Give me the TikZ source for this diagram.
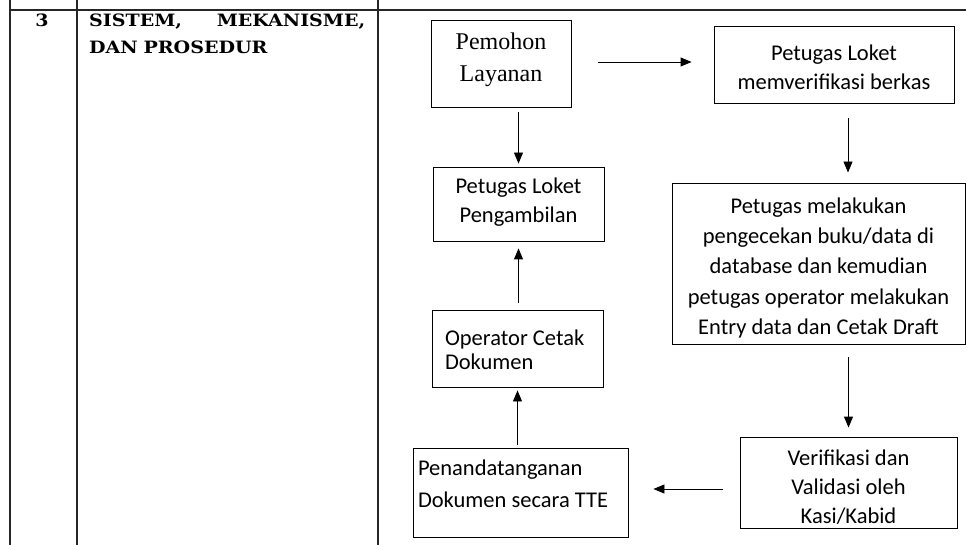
\documentclass[tikz,border=0pt]{standalone}
\usepackage{fontspec}
\usetikzlibrary{arrows.meta}
\setmainfont{Carlito}
\newfontfamily\judulfont[FakeStretch=1.12]{DejaVu Serif}
\newfontfamily\seriffont{Liberation Serif}
\begin{document}
\begin{tikzpicture}[x=1pt, y=-1pt,
		garis/.style={line width=1.6pt, draw=black!85},
		judul/.style={inner sep=0pt, font=\judulfont\bfseries\fontsize{17}{27}\selectfont},
		dasar/.style={draw, line width=0.9pt, inner sep=0pt, font=\fontsize{22.5}{29}\selectfont},
		kotak/.style={dasar, align=center, text height=#1, text depth=0pt},
		kiri/.style={dasar, align=flush left, text height=0pt, text depth=#1},
		panah/.style={line width=0.9pt, -{Triangle[length=11pt, width=9pt]}}]
	\useasboundingbox (0,0) rectangle (966,545);

	\draw[garis] (10,10) -- (966,10);
	\draw[garis] (10,0) -- (10,545);
	\draw[garis] (77,0) -- (77,545);
	\draw[garis] (378,0) -- (378,545);

	\node[judul, anchor=base] (no) at (42,27) {3};
	\node[judul, anchor=base west, text width=276pt, align=left] (bagian) at (89,27) {SISTEM,\hfill MEKANISME,\\DAN PROSEDUR};

	\node[kotak=37pt, minimum width=140pt, minimum height=87pt, font=\seriffont\fontsize{24}{32}\selectfont] (pemohon) at (501, 63.5) {Pemohon\\Layanan};
	\node[kotak=51pt, minimum width=240pt, minimum height=77pt] (loket)  at (834, 64.5)  {Petugas Loket\\memverifikasi berkas};
	\node[kotak=38pt, minimum width=171pt, minimum height=74pt] (ambil)  at (518.5, 204) {Petugas Loket\\Pengambilan};
	\node[kotak=141pt, minimum width=293pt, minimum height=161pt, font=\fontsize{22.5}{30}\selectfont] (cek) at (818.5, 263.5)
		{Petugas melakukan\\pengecekan buku/data di\\database dan kemudian\\petugas operator melakukan\\Entry data dan Cetak Draft};
	\node[kiri=7pt, text width=145pt, inner xsep=13pt, minimum height=77pt, font=\fontsize{22.5}{24}\selectfont] (cetak) at (517.5, 348.5) {Operator Cetak\\Dokumen};
	\node[kotak=81pt, minimum width=217pt, minimum height=91pt] (valid)  at (848.5, 482.5) {Verifikasi dan\\Validasi oleh\\Kasi/Kabid};
	\node[kiri=35pt, text width=205pt, inner xsep=5pt, minimum height=89pt, font=\fontsize{22.5}{32}\selectfont] (tte) at (520.5, 492.5) {Penandatanganan\\Dokumen secara TTE};

	\draw[panah, shorten <=27pt, shorten >=22pt] ([yshift=1.5pt]pemohon.east) -- ([yshift=1.5pt]pemohon.east -| loket.west);
	\draw[panah, shorten <=5pt,  shorten >=3pt]  (ambil.north |- pemohon.south) -- (ambil.north);
	\draw[panah, shorten <=15pt, shorten >=10pt] ([xshift=14pt]loket.south) -- ([xshift=14pt]loket.south |- cek.north);
	\draw[panah, shorten <=13pt, shorten >=9pt]  (valid.north |- cek.south) -- (valid.north);
	\draw[panah, shorten <=17pt, shorten >=25pt] ([yshift=3.5pt]tte.east -| valid.west) -- ([yshift=3.5pt]tte.east);
	\draw[panah, shorten <=3pt,  shorten >=3pt]  (cetak.south |- tte.north) -- (cetak.south);
	\draw[panah, shorten <=7pt,  shorten >=7pt]  (ambil.south |- cetak.north) -- (ambil.south);
\end{tikzpicture}
\end{document}
